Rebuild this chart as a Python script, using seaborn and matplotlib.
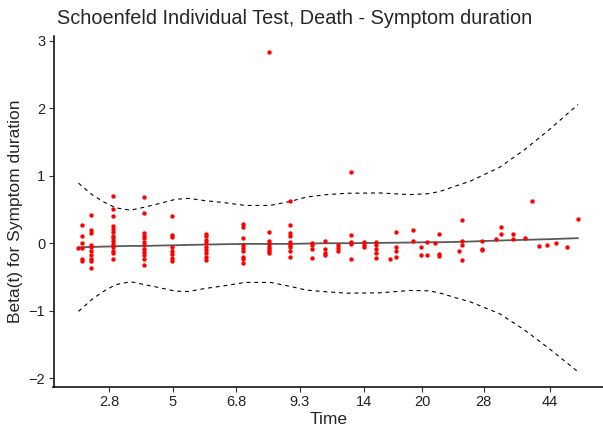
import pandas as pd
import matplotlib
matplotlib.use("Agg")
import matplotlib.pyplot as plt
import seaborn as sns

# km-transformed event times (0..1) and the scaled Schoenfeld residuals at each time
col_time = [0.000, 0.007, 0.025, 0.070, 0.132, 0.188, 0.256, 0.329, 0.382, 0.424,
            0.468, 0.493, 0.520, 0.545, 0.571, 0.595, 0.623, 0.636, 0.670, 0.685,
            0.698, 0.713, 0.721, 0.761, 0.768, 0.807, 0.836, 0.846, 0.869, 0.894,
            0.908, 0.921, 0.938, 0.956, 0.977, 1.000]
col_resid = [
    [-0.07],
    [0.27, 0.11, 0.00, -0.07, -0.23, -0.26],
    [0.42, 0.19, 0.15, -0.02, -0.06, -0.11, -0.17, -0.24, -0.26, -0.37],
    [0.70, 0.50, 0.41, 0.26, 0.21, 0.16, 0.11, 0.08, 0.04, -0.01, -0.06, -0.11, -0.15, -0.23],
    [0.68, 0.45, 0.15, 0.11, 0.07, 0.02, -0.03, -0.08, -0.13, -0.17, -0.24, -0.32],
    [0.41, 0.12, 0.09, -0.05, -0.11, -0.16, -0.22, -0.26],
    [0.14, 0.10, 0.05, 0.00, -0.05, -0.10, -0.15, -0.20, -0.25],
    [0.29, 0.24, 0.08, -0.02, -0.07, -0.11, -0.20, -0.24, -0.30],
    [2.83, 0.16, 0.04, -0.01, -0.05, -0.08, -0.12, -0.15],
    [0.63, 0.27, 0.15, 0.10, 0.02, -0.02, -0.06, -0.12, -0.21],
    [0.01, -0.03, -0.08, -0.22],
    [0.04, -0.08, -0.15, -0.18],
    [-0.03, -0.07, -0.12],
    [1.05, 0.12, 0.02, -0.01, -0.24],
    [0.02, -0.02, -0.06],
    [0.02, -0.03, -0.09, -0.15, -0.22],
    [-0.24],
    [0.16, -0.06, -0.12, -0.20],
    [0.19, 0.03],
    [-0.05, -0.17],
    [0.02, -0.18],
    [0.01],
    [0.14, -0.16, -0.19],
    [-0.12],
    [0.35, 0.03, -0.02, -0.25],
    [0.04, -0.08, -0.10],
    [0.06],
    [0.24, 0.13],
    [0.13, 0.06],
    [0.08],
    [0.63],
    [-0.04],
    [-0.02],
    [0.01],
    [-0.06],
    [0.36],
]

# smoothed beta(t) and half-width of its dashed band, read at these times
fit_time = [0.000, 0.028, 0.051, 0.074, 0.104, 0.130, 0.160, 0.194, 0.220, 0.254,
            0.288, 0.334, 0.384, 0.424, 0.457, 0.497, 0.537, 0.603, 0.663, 0.703,
            0.727, 0.756, 0.783, 0.842, 0.892, 0.942, 1.000]
fit_beta = [-0.060, -0.055, -0.050, -0.045, -0.040, -0.040, -0.035, -0.030, -0.025, -0.020,
            -0.015, -0.010, -0.010, -0.010, -0.005, 0.000, 0.000, 0.005, 0.010, 0.015,
            0.015, 0.020, 0.025, 0.040, 0.050, 0.060, 0.075]
fit_halfwidth = [0.95, 0.77, 0.66, 0.57, 0.53, 0.57, 0.62, 0.68, 0.69, 0.65,
                 0.62, 0.57, 0.57, 0.63, 0.69, 0.72, 0.74, 0.74, 0.71, 0.72,
                 0.76, 0.83, 0.89, 1.08, 1.33, 1.62, 1.98]

tick_pos = [0.062, 0.189, 0.316, 0.443, 0.571, 0.688, 0.811, 0.943]
tick_labels = ["2.8", "5", "6.8", "9.3", "14", "20", "28", "44"]

rows = []
for t, vals in zip(col_time, col_resid):
    for v in vals:
        rows.append([t, v])
resid_pd = pd.DataFrame(rows, columns=["time", "beta"])

fit_pd = pd.DataFrame({"time": fit_time, "beta": fit_beta})
fit_pd["upper"] = fit_pd["beta"] + pd.Series(fit_halfwidth)
fit_pd["lower"] = fit_pd["beta"] - pd.Series(fit_halfwidth)

sns.set_theme(style="ticks")
plt.rcParams["font.family"] = ["Liberation Sans", "DejaVu Sans"]

W, H = 603, 436
fig = plt.figure(figsize=(W / 100, H / 100), dpi=100)
ax = fig.add_axes([53.5 / W, 1 - 387 / H, 1 - 53.5 / W, (387 - 36) / H])

sns.scatterplot(data=resid_pd, x="time", y="beta", color="red", s=10,
                linewidth=0, ax=ax, zorder=3)
sns.lineplot(data=fit_pd, x="time", y="beta", color="#5a5a5a", lw=1.3, ax=ax)
sns.lineplot(data=fit_pd, x="time", y="upper", color="black", lw=0.8,
             linestyle=(0, (3.5, 3.5)), ax=ax)
sns.lineplot(data=fit_pd, x="time", y="lower", color="black", lw=0.8,
             linestyle=(0, (3.5, 3.5)), ax=ax)

ax.set_xlim(-0.05, 1.05)
ax.set_ylim(-2.13, 3.07)
ax.set_xticks(tick_pos)
ax.set_xticklabels(tick_labels)
ax.set_yticks([-2, -1, 0, 1, 2, 3])
ax.tick_params(labelsize=10.5, length=3.5, width=0.8, color="#333333",
               labelcolor="#222222", pad=2.5)
for side in ["top", "right"]:
    ax.spines[side].set_visible(False)
for side in ["left", "bottom"]:
    ax.spines[side].set_linewidth(1.1)
    ax.spines[side].set_color("black")

ax.set_xlabel("Time", fontsize=12.5, labelpad=2)
ax.set_ylabel("Beta(t) for Symptom duration", fontsize=12.5, labelpad=4)
fig.text(57 / W, 1 - 18 / H, "Schoenfeld Individual Test, Death - Symptom duration",
         fontsize=14.3, ha="left", va="center")

fig.savefig("out.png", dpi=100)
